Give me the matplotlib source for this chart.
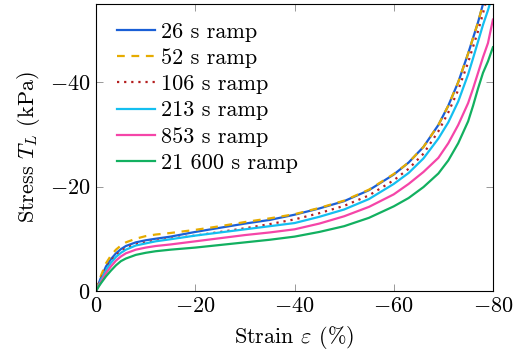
import matplotlib
matplotlib.use("Agg")
import matplotlib.pyplot as plt

plt.rcParams["font.family"] = "serif"
plt.rcParams["font.serif"] = ["cmr10"]
plt.rcParams["mathtext.fontset"] = "cm"
plt.rcParams["axes.formatter.use_mathtext"] = True

# strain grid (%) shared by all series
strain = [0, -0.5, -1, -2, -3, -4, -5, -6, -8, -10, -12, -15, -20, -25, -30,
          -35, -40, -45, -50, -55, -60, -63, -66, -69, -71, -73, -75, -76,
          -77, -78, -79, -80]

# stress (kPa)
s26 = [0, -1.4, -2.6, -4.7, -6.1, -7.2, -8.0, -8.6, -9.3, -9.7, -10.0, -10.4,
       -11.3, -12.1, -12.9, -13.6, -14.6, -15.8, -17.2, -19.3, -22.3, -24.6,
       -27.6, -31.8, -35.5, -40.0, -45.5, -48.5, -51.5, -55.0, -59.0, -63.0]
s52 = [0, -1.6, -3.0, -5.3, -6.8, -7.9, -8.7, -9.3, -10.0, -10.5, -10.8,
       -11.1, -11.7, -12.4, -13.2, -13.9, -14.7, -15.9, -17.3, -19.4, -22.4,
       -24.6, -27.6, -31.8, -35.5, -40.0, -45.5, -48.5, -51.5, -55.0, -59.0,
       -63.0]
s106 = [0, -1.3, -2.4, -4.3, -5.7, -6.8, -7.6, -8.2, -8.9, -9.3, -9.6, -10.0,
        -10.6, -11.3, -12.0, -12.8, -13.7, -14.9, -16.3, -18.3, -21.2, -23.4,
        -26.3, -30.6, -34.2, -38.5, -43.8, -46.8, -49.8, -53.2, -57.0, -61.0]
s213 = [0, -1.1, -2.1, -4.0, -5.4, -6.5, -7.3, -7.9, -8.7, -9.1, -9.5, -9.9,
        -10.6, -11.2, -11.8, -12.4, -13.0, -14.2, -15.6, -17.6, -20.5, -22.6,
        -25.4, -29.2, -32.3, -36.3, -41.5, -44.6, -47.8, -51.0, -53.8, -57.0]
s853 = [0, -0.9, -1.8, -3.4, -4.7, -5.8, -6.6, -7.2, -7.9, -8.3, -8.6, -8.9,
        -9.5, -10.1, -10.7, -11.2, -11.8, -12.9, -14.3, -16.1, -18.5, -20.5,
        -22.8, -25.5, -28.3, -31.8, -36.0, -38.8, -41.8, -44.8, -47.5, -52.0]
s21600 = [0, -0.8, -1.5, -2.8, -3.9, -4.9, -5.7, -6.2, -6.9, -7.3, -7.6, -7.9,
          -8.3, -8.8, -9.3, -9.8, -10.4, -11.3, -12.4, -14.0, -16.2, -17.8,
          -19.9, -22.5, -25.0, -28.3, -32.5, -35.5, -38.8, -41.8, -44.0, -46.7]

series = [
    ("26 s ramp", s26, "#1a5fd6", "-"),
    ("52 s ramp", s52, "#e6ac00", (0, (3.5, 3))),
    ("106 s ramp", s106, "#b41e1e", (0, (1, 2.2))),
    ("213 s ramp", s213, "#14bff0", "-"),
    ("853 s ramp", s853, "#f545a8", "-"),
    ("21 600 s ramp", s21600, "#12b060", "-"),
]

fig = plt.figure(figsize=(5.14, 3.60), dpi=100)
ax = fig.add_axes([0.187, 0.192, 0.772, 0.797])

for label, values, color, style in series:
    ax.plot(strain, values, color=color, linestyle=style, linewidth=1.6,
            label=label)

ax.set_xlim(0, -80)
ax.set_ylim(0, -55)
ax.set_xticks([0, -20, -40, -60, -80])
ax.set_yticks([0, -20, -40])
ax.tick_params(direction="in", top=True, right=True, length=5, width=0.6,
               color="#888888", labelsize=16, pad=4)
for sp in ax.spines.values():
    sp.set_linewidth(0.8)

ax.set_xlabel("Strain $\\varepsilon$ (%)", fontsize=16, labelpad=6)
ax.set_ylabel("Stress $T_L$ (kPa)", fontsize=16, labelpad=6)

ax.legend(loc="upper left", bbox_to_anchor=(0.03, 0.968), borderaxespad=0,
          frameon=False, fontsize=16, handlelength=1.7,
          handletextpad=0.27, labelspacing=0.30)

fig.savefig("out.png", dpi=100)
